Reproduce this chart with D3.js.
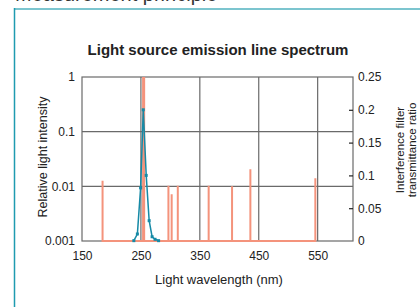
<!DOCTYPE html>
<html>
<head>
<meta charset="utf-8">
<script src="https://cdn.jsdelivr.net/npm/d3@7"></script>
<style>
  body { margin: 0; background: #fff; }
  svg { display: block; font-family: "Liberation Sans", Arial, sans-serif; }
</style>
</head>
<body>
<div class="chart"></div>
<script>
const w = 420;
const h = 307;

// emission lines of the lamp (nm, relative intensity)
let lineWl = [184.9, 253.7, 255.5, 296.7, 302.2, 312.6, 365.0, 404.7, 435.8, 546.1];
let lineInt = [0.0126, 1, 1, 0.0102, 0.0072, 0.0102, 0.0102, 0.0100, 0.0205, 0.0140];

// interference filter transmittance (nm, ratio)
let filtWl = [238, 244, 249.5, 254, 259, 264, 269, 274, 280];
let filtT = [0.0005, 0.0107, 0.081, 0.2, 0.1, 0.031, 0.0065, 0.0026, 0.0005];

let xTicks = [150, 250, 350, 450, 550];
let yTicks = [1, 0.1, 0.01, 0.001];
let yTickLabels = ["1", "0.1", "0.01", "0.001"];
let y2Ticks = [0, 0.05, 0.1, 0.15, 0.2, 0.25];

const pL = 82, pR = 353, pT = 77, pB = 241;

let svg = d3.select(".chart")
    .append("svg")
    .attr("width", w)
    .attr("height", h);

// page header + teal frame
svg.append("text")
    .attr("x", 15)
    .attr("y", 1)
    .attr("font-size", 20)
    .attr("fill", "#333")
    .text("Measurement principle");

svg.append("line")
    .attr("x1", 14).attr("x2", w)
    .attr("y1", 9).attr("y2", 9)
    .attr("stroke", "#7cc5cf").attr("stroke-width", 2);
svg.append("line")
    .attr("x1", 14.5).attr("x2", 14.5)
    .attr("y1", 8).attr("y2", h)
    .attr("stroke", "#1f9bb0").attr("stroke-width", 1.5);

let x = d3.scaleLinear().domain([150, 610]).range([pL, pR]);
let y = d3.scaleLog().domain([0.001, 1]).range([pB, pT]);
let y2 = d3.scaleLinear().domain([0, 0.25]).range([pB, pT]);

const grey = "#6a6a6a";

// grid
svg.append("g")
    .selectAll("line")
    .data(xTicks.slice(1))
    .enter()
    .append("line")
    .attr("x1", d => x(d)).attr("x2", d => x(d))
    .attr("y1", pT).attr("y2", pB)
    .attr("stroke", grey).attr("stroke-width", 1.2);

svg.append("g")
    .selectAll("line")
    .data([0.1, 0.01])
    .enter()
    .append("line")
    .attr("x1", pL).attr("x2", pR)
    .attr("y1", d => y(d)).attr("y2", d => y(d))
    .attr("stroke", grey).attr("stroke-width", 1.2);

// frame
svg.append("rect")
    .attr("x", pL).attr("y", pT)
    .attr("width", pR - pL).attr("height", pB - pT)
    .attr("fill", "none")
    .attr("stroke", grey).attr("stroke-width", 1.2);

// left axis labels
svg.append("g")
    .attr("transform", `translate(${pL},0)`)
    .call(d3.axisLeft(y).tickValues(yTicks).tickSize(0).tickPadding(7)
        .tickFormat((d, i) => yTickLabels[i]))
    .call(g => g.select(".domain").remove())
    .selectAll("text")
    .attr("font-size", 12)
    .attr("font-family", "Liberation Sans, Arial, sans-serif")
    .attr("fill", "#222");

// bottom axis labels
svg.append("g")
    .attr("transform", `translate(0,${pB})`)
    .call(d3.axisBottom(x).tickValues(xTicks).tickSize(0).tickPadding(10))
    .call(g => g.select(".domain").remove())
    .selectAll("text")
    .attr("font-size", 12)
    .attr("font-family", "Liberation Sans, Arial, sans-serif")
    .attr("fill", "#222");

// right axis, ticks pointing inward
let rAxis = svg.append("g")
    .attr("transform", `translate(${pR},0)`)
    .call(d3.axisRight(y2).tickValues(y2Ticks).tickSize(0).tickPadding(5)
        .tickFormat(d => d3.format("")(+d.toFixed(2))));
rAxis.select(".domain").remove();
rAxis.selectAll("text")
    .attr("font-size", 12)
    .attr("font-family", "Liberation Sans, Arial, sans-serif")
    .attr("fill", "#222");
rAxis.selectAll(".tick")
    .filter(d => d > 0 && d < 0.25)
    .append("line")
    .attr("x1", -4).attr("x2", 0)
    .attr("stroke", "#222").attr("stroke-width", 1.2);

// emission line spectrum
let spec = [[lineWl[0], 0.001]];
lineWl.forEach((wl, i) => {
    spec.push([wl, 0.001], [wl, lineInt[i]], [wl, 0.001]);
});
svg.append("path")
    .datum(spec)
    .attr("fill", "none")
    .attr("stroke", "#f4937c")
    .attr("stroke-width", 2)
    .attr("d", d3.line().x(d => x(d[0])).y(d => y(d[1])));

// filter transmittance
let filt = filtWl.map((wl, i) => [wl, filtT[i]]);
svg.append("path")
    .datum(filt)
    .attr("fill", "none")
    .attr("stroke", "#168aa6")
    .attr("stroke-width", 1.5)
    .attr("d", d3.line().x(d => x(d[0])).y(d => y2(d[1])));

svg.append("g")
    .selectAll("rect")
    .data(filt)
    .enter()
    .append("rect")
    .attr("x", d => x(d[0]) - 1.5)
    .attr("y", d => y2(d[1]) - 1.5)
    .attr("width", 3).attr("height", 3)
    .attr("fill", "#168aa6");

// titles
svg.append("text")
    .attr("x", 218)
    .attr("y", 55)
    .attr("text-anchor", "middle")
    .attr("font-size", 15)
    .attr("font-weight", "bold")
    .attr("fill", "#222")
    .text("Light source emission line spectrum");

svg.append("text")
    .attr("x", 219)
    .attr("y", 284)
    .attr("text-anchor", "middle")
    .attr("font-size", 13)
    .attr("fill", "#222")
    .text("Light wavelength (nm)");

svg.append("text")
    .attr("transform", "translate(47,157) rotate(-90)")
    .attr("text-anchor", "middle")
    .attr("font-size", 12.5)
    .attr("fill", "#222")
    .text("Relative light intensity");

let rt = svg.append("text")
    .attr("transform", "translate(404,150) rotate(-90)")
    .attr("text-anchor", "middle")
    .attr("font-size", 11.5)
    .attr("fill", "#222");
rt.append("tspan").attr("x", 0).attr("dy", 0).text("Interference filter");
rt.append("tspan").attr("x", 0).attr("dy", 12).text("transmittance ratio");
</script>
</body>
</html>
